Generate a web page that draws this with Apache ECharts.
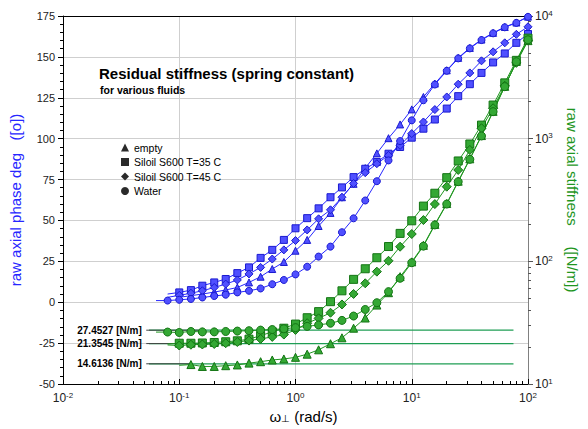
<!DOCTYPE html>
<html>
<head>
<meta charset="utf-8">
<style>
  html, body { margin: 0; padding: 0; background: #fff; }
  #chart { width: 588px; height: 429px; }
</style>
<script src="https://cdn.jsdelivr.net/npm/echarts@6/dist/echarts.min.js"></script>
</head>
<body>
<div id="chart"></div>
<script>
// Angular frequency, rad/s (10 points per decade)
const freq = [0.0631, 0.0794, 0.1, 0.126, 0.158, 0.2, 0.251, 0.316, 0.398, 0.501, 0.631, 0.794,
              1, 1.26, 1.58, 2, 2.51, 3.16, 3.98, 5.01, 6.31, 7.94,
              10, 12.6, 15.8, 20, 25.1, 31.6, 39.8, 50.1, 63.1, 79.4, 100];

// Phase angle (deg), left axis
const phaseEmpty = [null, null, 3.0, 4.0, 5.0, 6.2, 7.5, 9.0, 12.1, 15.6, 20.3, 24.6,
                    31.5, 38.1, 46.6, 54.6, 64.2, 72.4, 82.0, 91.0, 100.3, 108.7,
                    117.9, 125.5, 133.7, 141.8, 149.4, 155.5, 160.6, 164.7, 168.3, 171.0, 174.6];
const phaseS35 = [null, 5.0, 6.0, 7.4, 10.1, 12.1, 14.2, 17.8, 21.3, 27.1, 32.0, 38.1,
                  45.2, 51.4, 57.4, 64.2, 70.2, 76.5, 81.6, 85.7, 90.8, 94.9,
                  100.6, 106.1, 111.7, 118.4, 126.0, 133.3, 140.2, 146.6, 152.1, 158.6, 164.0];
const phaseS45 = [null, 3.0, 4.2, 5.5, 7.0, 9.0, 11.1, 13.6, 17.3, 21.3, 26.4, 32.0,
                  37.7, 44.2, 51.0, 56.5, 64.2, 72.6, 79.2, 84.7, 89.8, 95.9,
                  103.1, 110.2, 117.8, 125.5, 133.3, 140.2, 147.6, 153.1, 158.6, 163.8, 168.4];
const phaseWater = [1.0, 1.0, 1.5, 2.0, 2.9, 3.8, 4.6, 6.0, 7.0, 8.4, 11.0, 13.6,
                    17.0, 21.7, 27.9, 34.0, 42.8, 51.3, 62.2, 74.0, 86.7, 98.5,
                    111.2, 123.5, 133.1, 141.5, 149.1, 155.2, 160.3, 164.4, 168.1, 170.8, 174.5];

// Axial stiffness (N/m), right axis
const stiffEmpty = [null, null, 14.2, 14.4, 13.9, 13.9, 14.1, 14.3, 14.8, 15.2, 15.7, 16.0,
                    16.5, 17.5, 19.0, 21.3, 23.8, 28.5, 34.5, 44, 55.5, 75,
                    99, 135, 200, 296, 450, 685, 1060, 1670, 2670, 4260, 6300];
const stiffS35 = [null, 21.2, 21.5, 21.5, 21.6, 21.8, 22.1, 22.5, 23.2, 24.8, 26.6, 28.5,
                  30.8, 34.7, 38.9, 46.9, 57.5, 71.3, 87, 107, 132, 169,
                  214, 282, 359, 481, 658, 905, 1290, 1880, 2850, 4350, 6600];
const stiffS45 = [null, 20.8, 20.6, 20.9, 21.0, 21.2, 21.5, 22.0, 22.6, 23.3, 24.2, 25.3,
                  27.6, 31.3, 34.3, 38.1, 44.5, 54.2, 66.2, 82.4, 101, 131.6,
                  167, 217, 293, 406, 556, 809, 1216, 1770, 2700, 4150, 6300];
const stiffWater = [26.5, 26.5, 26.3, 26.8, 26.6, 26.6, 26.8, 27.0, 27.2, 27.5, 27.8, 28.2,
                    28.8, 29.5, 30.3, 31.3, 33.0, 35.8, 40.5, 46.0, 56.6, 72.8,
                    97.5, 133, 198, 293, 446, 679, 1052, 1660, 2655, 4240, 6400];

// Residual stiffness fits (N/m)
const fitValues = [27.4527, 21.3545, 14.6136];
const fitLabels = ['27.4527 [N/m]', '21.3545 [N/m]', '14.6136 [N/m]'];
const fitRange = [0.055, 75];
const leaderRange = [[0.052, 0.15], [0.052, 0.10], [0.052, 0.125]];

const fluids = ['empty', 'Siloil S600 T=35 C', 'Siloil S600 T=45 C', 'Water'];
const symbols = ['triangle', 'rect', 'diamond', 'circle'];
const phaseSets = [phaseEmpty, phaseS35, phaseS45, phaseWater];
const stiffSets = [stiffEmpty, stiffS35, stiffS45, stiffWater];

// minor tick positions of the log axes (2..9 within each decade)
const xTicksMinor = [0.02,0.03,0.04,0.05,0.06,0.07,0.08,0.09,0.2,0.3,0.4,0.5,0.6,0.7,0.8,0.9,
                     2,3,4,5,6,7,8,9,20,30,40,50,60,70,80,90];
const yTicksMinor = [20,30,40,50,60,70,80,90,200,300,400,500,600,700,800,900,
                     2000,3000,4000,5000,6000,7000,8000,9000];

const BLUE = '#2626ff';
const GREEN = '#1f961f';
const FONT = 'Liberation Sans, Arial, sans-serif';

// pair frequencies with values; the first point of each run is drawn without a marker
function toPairs(vals) {
  const out = [];
  let first = true;
  vals.forEach((v, i) => {
    if (v == null) return;
    out.push(first ? { value: [freq[i], v], symbol: 'none' } : [freq[i], v]);
    first = false;
  });
  return out;
}

function powLabel(v) {
  const e = Math.round(Math.log10(v));
  return '{b|10}{e|' + e + '}';
}
const powRich = {
  b: { fontSize: 12, color: '#222', fontFamily: FONT, lineHeight: 14 },
  e: { fontSize: 8, color: '#222', fontFamily: FONT, verticalAlign: 'top', lineHeight: 9 }
};

const series = [];
fluids.forEach((name, i) => {
  series.push({
    name: name, type: 'line', xAxisIndex: 0, yAxisIndex: 0,
    data: toPairs(phaseSets[i]),
    symbol: symbols[i], symbolSize: symbols[i] === 'diamond' ? 8 : 7,
    lineStyle: { color: BLUE, width: 1 },
    itemStyle: { color: '#5050ff', borderColor: '#1a1ad0', borderWidth: 1 },
    emphasis: { disabled: true }, animation: false, z: 3
  });
});
fluids.forEach((name, i) => {
  series.push({
    name: name, type: 'line', xAxisIndex: 0, yAxisIndex: 1,
    data: toPairs(stiffSets[i]),
    symbol: symbols[i], symbolSize: symbols[i] === 'diamond' ? 9 : 8,
    lineStyle: { color: GREEN, width: 1 },
    itemStyle: { color: '#34a834', borderColor: '#137413', borderWidth: 1 },
    emphasis: { disabled: true }, animation: false, z: 4
  });
});
fitValues.forEach((v, i) => {
  series.push({
    type: 'line', xAxisIndex: 0, yAxisIndex: 1,
    data: [[fitRange[0], v], [fitRange[1], v]],
    symbol: 'none', lineStyle: { color: '#1f9e55', width: 1.3 },
    emphasis: { disabled: true }, animation: false, z: 2
  });
  series.push({
    type: 'line', xAxisIndex: 0, yAxisIndex: 1,
    data: [
      { value: [leaderRange[i][0], v],
        label: { show: true, position: 'left', distance: 4, formatter: fitLabels[i],
                 fontSize: 10, fontWeight: 'bold', color: '#000', fontFamily: FONT } },
      [leaderRange[i][1], v]
    ],
    symbol: 'circle', symbolSize: 1, itemStyle: { color: 'rgba(0,0,0,0)' },
    lineStyle: { color: '#444', width: 1 },
    emphasis: { disabled: true }, animation: false, z: 2
  });
});

const chart = echarts.init(document.getElementById('chart'), null, { renderer: 'svg' });
chart.setOption({
  animation: false,
  textStyle: { fontFamily: FONT },
  title: [
    { text: 'Residual stiffness (spring constant)', left: 99, top: 66, padding: 0,
      textStyle: { fontSize: 15, fontWeight: 'bold', color: '#000', fontFamily: FONT } },
    { text: 'for various fluids', left: 100, top: 84, padding: 0,
      textStyle: { fontSize: 10.5, fontWeight: 'bold', color: '#000', fontFamily: FONT } }
  ],
  legend: {
    orient: 'vertical', left: 121, top: 142, itemWidth: 8, itemHeight: 8, itemGap: 3.5,
    padding: 0, selectedMode: false,
    textStyle: { fontSize: 10.5, color: '#000', fontFamily: FONT },
    data: fluids.map((n, i) => ({ name: n, icon: symbols[i],
                                   itemStyle: { color: '#2a2a2a', borderWidth: 0 } }))
  },
  grid: { left: 62, right: 53, top: 16, bottom: 45, containLabel: false },
  xAxis: [
    {
      type: 'log', logBase: 10, min: 0.01, max: 100, position: 'bottom',
      name: '{w|ω}{s|⊥}{t| (rad/s)}', nameLocation: 'middle', nameGap: 23,
      nameTextStyle: {
        padding: [0, 0, 0, 16],
        rich: {
          w: { fontSize: 15, color: '#000', fontFamily: FONT },
          s: { fontSize: 10, color: '#000', fontFamily: FONT, verticalAlign: 'bottom' },
          t: { fontSize: 15, color: '#000', fontFamily: FONT }
        }
      },
      axisLine: { onZero: false, lineStyle: { color: '#000', width: 1 } },
      axisTick: { inside: true, length: 5, lineStyle: { color: '#000' } },
      axisLabel: { formatter: powLabel, rich: powRich, margin: 7 },
      splitLine: { show: true, lineStyle: { color: '#cfcfcf', width: 1 } }
    },
    {
      // log-space helper axis carrying the minor ticks
      type: 'value', min: -2, max: 2, position: 'bottom',
      axisLine: { show: false, onZero: false },
      axisTick: { show: true, inside: true, length: 3,
                  customValues: xTicksMinor.map(Math.log10), lineStyle: { color: '#000' } },
      axisLabel: { show: false }, splitLine: { show: false }
    },
    {
      type: 'log', logBase: 10, min: 0.01, max: 100, position: 'top',
      axisLine: { onZero: false, lineStyle: { color: '#000', width: 1 } },
      axisTick: { show: false }, axisLabel: { show: false }, splitLine: { show: false }
    }
  ],
  yAxis: [
    {
      type: 'value', min: -50, max: 175, interval: 25, position: 'left',
      name: 'raw axial phase deg   ([o])', nameLocation: 'middle', nameGap: 40,
      nameTextStyle: { color: BLUE, fontSize: 15, fontFamily: FONT },
      axisLine: { show: true, onZero: false, lineStyle: { color: '#000', width: 1 } },
      axisTick: { show: true, length: 5, lineStyle: { color: '#000' } },
      minorTick: { show: true, splitNumber: 5, length: 3, lineStyle: { color: '#000' } },
      axisLabel: { fontSize: 11, color: '#222', margin: 8 },
      splitLine: { show: true, lineStyle: { color: '#cfcfcf', width: 1 } }
    },
    {
      type: 'log', logBase: 10, min: 10, max: 10000, position: 'right',
      name: 'raw axial stiffness     ([N/m])', nameLocation: 'middle', nameGap: 37, nameRotate: -90,
      nameTextStyle: { color: GREEN, fontSize: 15, fontFamily: FONT },
      axisLine: { show: true, onZero: false, lineStyle: { color: '#808080', width: 1 } },
      axisTick: { show: true, length: 5, lineStyle: { color: '#555' } },
      axisLabel: { formatter: powLabel, rich: powRich, margin: 7 },
      splitLine: { show: false }
    },
    {
      // log-space helper axis carrying the minor ticks
      type: 'value', min: 1, max: 4, position: 'right',
      axisLine: { show: false, onZero: false },
      axisTick: { show: true, length: 3,
                  customValues: yTicksMinor.map(Math.log10), lineStyle: { color: '#555' } },
      axisLabel: { show: false }, splitLine: { show: false }
    }
  ],
  series: series
});
</script>
</body>
</html>
